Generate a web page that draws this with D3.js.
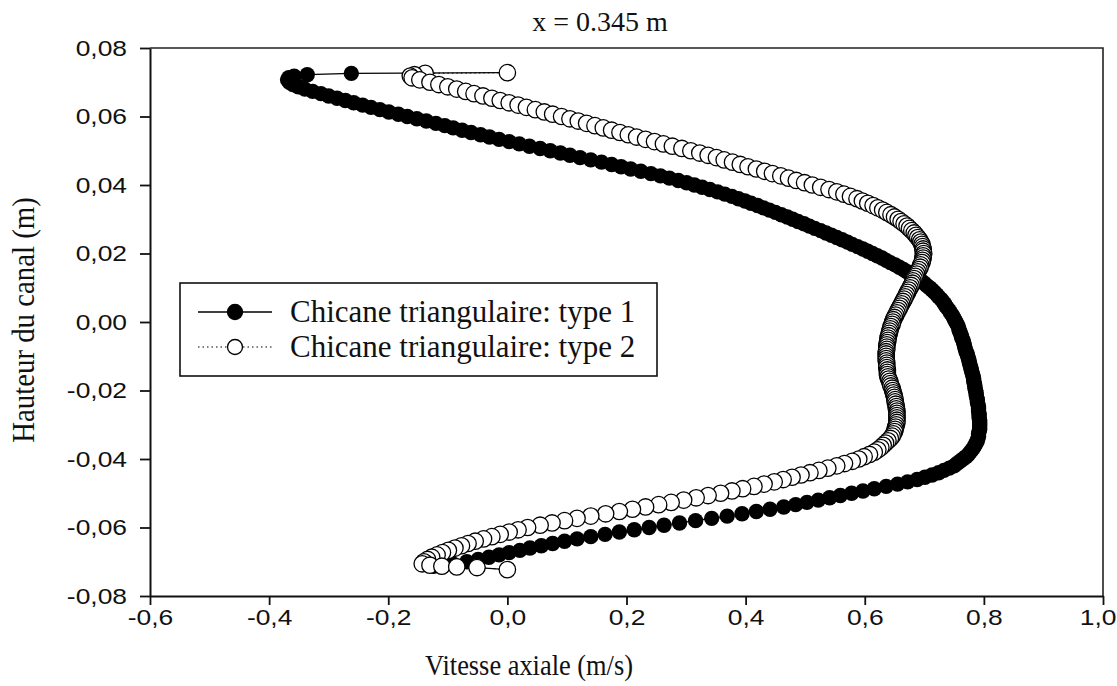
<!DOCTYPE html>
<html>
<head>
<meta charset="utf-8">
<script src="https://cdn.jsdelivr.net/npm/d3@7"></script>
<style>
  body { margin: 0; background: #fff; }
  svg { display: block; }
</style>
</head>
<body>
<svg id="chart" width="1117" height="686"></svg>
<script>
// Channel height (m) of each sampled point, from the upper wall to the lower wall
const heights = [
  0.0728, 0.0726, 0.0722, 0.0718, 0.0713, 0.0707,
  0.07000, 0.06933, 0.06867, 0.06800, 0.06733, 0.06667,
  0.06600, 0.06533, 0.06467, 0.06400, 0.06333, 0.06267,
  0.06200, 0.06133, 0.06067, 0.06000, 0.05933, 0.05867,
  0.05800, 0.05733, 0.05667, 0.05600, 0.05533, 0.05467,
  0.05400, 0.05333, 0.05267, 0.05200, 0.05133, 0.05067,
  0.05000, 0.04933, 0.04867, 0.04800, 0.04733, 0.04667,
  0.04600, 0.04533, 0.04467, 0.04400, 0.04333, 0.04267,
  0.04200, 0.04133, 0.04067, 0.04000, 0.03933, 0.03867,
  0.03800, 0.03733, 0.03667, 0.03600, 0.03533, 0.03467,
  0.03400, 0.03333, 0.03267, 0.03200, 0.03133, 0.03067,
  0.03000, 0.02933, 0.02867, 0.02800, 0.02733, 0.02667,
  0.02600, 0.02533, 0.02467, 0.02400, 0.02333, 0.02267,
  0.02200, 0.02133, 0.02067, 0.02000, 0.01933, 0.01867,
  0.01800, 0.01733, 0.01667, 0.01600, 0.01533, 0.01467,
  0.01400, 0.01333, 0.01267, 0.01200, 0.01133, 0.01067,
  0.01000, 0.00933, 0.00867, 0.00800, 0.00733, 0.00667,
  0.00600, 0.00533, 0.00467, 0.00400, 0.00333, 0.00267,
  0.00200, 0.00133, 0.00067, 0.00000, -0.00067, -0.00133,
  -0.00200, -0.00267, -0.00333, -0.00400, -0.00467, -0.00533,
  -0.00600, -0.00667, -0.00733, -0.00800, -0.00867, -0.00933,
  -0.01000, -0.01067, -0.01133, -0.01200, -0.01267, -0.01333,
  -0.01400, -0.01467, -0.01533, -0.01600, -0.01667, -0.01733,
  -0.01800, -0.01867, -0.01933, -0.02000, -0.02067, -0.02133,
  -0.02200, -0.02267, -0.02333, -0.02400, -0.02467, -0.02533,
  -0.02600, -0.02667, -0.02733, -0.02800, -0.02867, -0.02933,
  -0.03000, -0.03067, -0.03133, -0.03200, -0.03267, -0.03333,
  -0.03400, -0.03467, -0.03533, -0.03600, -0.03667, -0.03733,
  -0.03800, -0.03867, -0.03933, -0.04000, -0.04067, -0.04133,
  -0.04200, -0.04267, -0.04333, -0.04400, -0.04467, -0.04533,
  -0.04600, -0.04667, -0.04733, -0.04800, -0.04867, -0.04933,
  -0.05000, -0.05067, -0.05133, -0.05200, -0.05267, -0.05333,
  -0.05400, -0.05467, -0.05533, -0.05600, -0.05667, -0.05733,
  -0.05800, -0.05867, -0.05933, -0.06000, -0.06067, -0.06133,
  -0.06200, -0.06267, -0.06333, -0.06400, -0.06467, -0.06533,
  -0.06600, -0.06667, -0.06733, -0.06800, -0.06867, -0.06933,
  -0.07000,
  -0.0706, -0.0710, -0.0713, -0.0715, -0.0717, -0.0723
];

// Axial velocity (m/s), triangular baffle type 1
const velocityType1 = [
  0.000, -0.262, -0.336, -0.358, -0.367, -0.369,
  -0.366, -0.360, -0.351, -0.340, -0.327, -0.313,
  -0.300, -0.286, -0.272, -0.258, -0.243, -0.229,
  -0.214, -0.199, -0.183, -0.168, -0.152, -0.136,
  -0.120, -0.105, -0.091, -0.076, -0.061, -0.045,
  -0.030, -0.014, 0.003, 0.020, 0.037, 0.055,
  0.072, 0.089, 0.105, 0.122, 0.140, 0.158,
  0.175, 0.191, 0.207, 0.224, 0.241, 0.257,
  0.272, 0.287, 0.301, 0.314, 0.327, 0.340,
  0.353, 0.365, 0.377, 0.388, 0.399, 0.409,
  0.420, 0.430, 0.440, 0.450, 0.460, 0.470,
  0.479, 0.488, 0.498, 0.507, 0.516, 0.526,
  0.535, 0.544, 0.553, 0.562, 0.571, 0.579,
  0.588, 0.597, 0.605, 0.613, 0.621, 0.629,
  0.636, 0.643, 0.651, 0.658, 0.665, 0.671,
  0.678, 0.684, 0.690, 0.695, 0.700, 0.704,
  0.709, 0.713, 0.717, 0.721, 0.724, 0.728,
  0.731, 0.734, 0.736, 0.739, 0.742, 0.744,
  0.747, 0.749, 0.751, 0.753, 0.755, 0.757,
  0.758, 0.759, 0.761, 0.762, 0.763, 0.765,
  0.766, 0.767, 0.768, 0.769, 0.770, 0.772,
  0.773, 0.774, 0.775, 0.776, 0.777, 0.778,
  0.779, 0.780, 0.781, 0.782, 0.783, 0.783,
  0.784, 0.785, 0.785, 0.786, 0.787, 0.787,
  0.788, 0.789, 0.789, 0.790, 0.791, 0.791,
  0.791, 0.792, 0.792, 0.792, 0.793, 0.793,
  0.793, 0.793, 0.793, 0.792, 0.791, 0.791,
  0.790, 0.789, 0.787, 0.785, 0.783, 0.780,
  0.777, 0.774, 0.770, 0.765, 0.760, 0.755,
  0.750, 0.742, 0.733, 0.724, 0.713, 0.701,
  0.688, 0.672, 0.655, 0.636, 0.616, 0.597,
  0.578, 0.559, 0.541, 0.522, 0.503, 0.484,
  0.464, 0.441, 0.418, 0.394, 0.369, 0.343,
  0.316, 0.289, 0.263, 0.238, 0.213, 0.188,
  0.164, 0.140, 0.117, 0.096, 0.076, 0.057,
  0.038, 0.021, 0.003, -0.014, -0.031, -0.049,
  -0.068,
  -0.092, -0.112, -0.124, -0.110, -0.050, 0.000
];

// Axial velocity (m/s), triangular baffle type 2
const velocityType2 = [
  0.000, -0.138, -0.156, -0.163, -0.160, -0.147,
  -0.130, -0.115, -0.100, -0.085, -0.070, -0.056,
  -0.041, -0.026, -0.012, 0.003, 0.018, 0.032,
  0.047, 0.062, 0.076, 0.091, 0.105, 0.119,
  0.133, 0.147, 0.161, 0.175, 0.189, 0.203,
  0.217, 0.232, 0.247, 0.262, 0.277, 0.293,
  0.308, 0.323, 0.337, 0.351, 0.364, 0.378,
  0.391, 0.404, 0.418, 0.432, 0.445, 0.459,
  0.472, 0.485, 0.499, 0.512, 0.526, 0.540,
  0.553, 0.565, 0.576, 0.587, 0.596, 0.605,
  0.614, 0.622, 0.630, 0.637, 0.644, 0.650,
  0.656, 0.661, 0.666, 0.671, 0.675, 0.679,
  0.683, 0.686, 0.689, 0.692, 0.694, 0.696,
  0.697, 0.698, 0.698, 0.699, 0.698, 0.698,
  0.697, 0.696, 0.694, 0.693, 0.691, 0.689,
  0.687, 0.685, 0.683, 0.681, 0.680, 0.678,
  0.676, 0.674, 0.672, 0.670, 0.668, 0.666,
  0.664, 0.662, 0.660, 0.658, 0.656, 0.654,
  0.652, 0.650, 0.648, 0.647, 0.646, 0.644,
  0.643, 0.642, 0.641, 0.640, 0.639, 0.639,
  0.638, 0.637, 0.637, 0.637, 0.636, 0.636,
  0.636, 0.636, 0.636, 0.637, 0.637, 0.637,
  0.638, 0.638, 0.638, 0.639, 0.640, 0.642,
  0.643, 0.644, 0.646, 0.647, 0.648, 0.649,
  0.650, 0.651, 0.651, 0.652, 0.653, 0.653,
  0.654, 0.654, 0.654, 0.654, 0.654, 0.654,
  0.653, 0.652, 0.651, 0.650, 0.648, 0.646,
  0.643, 0.639, 0.635, 0.631, 0.627, 0.622,
  0.616, 0.608, 0.599, 0.590, 0.579, 0.566,
  0.553, 0.538, 0.523, 0.508, 0.493, 0.478,
  0.463, 0.448, 0.431, 0.414, 0.395, 0.377,
  0.358, 0.337, 0.317, 0.296, 0.275, 0.254,
  0.232, 0.210, 0.188, 0.165, 0.140, 0.117,
  0.096, 0.075, 0.055, 0.034, 0.018, 0.003,
  -0.012, -0.026, -0.040, -0.054, -0.066, -0.077,
  -0.088, -0.099, -0.109, -0.118, -0.127, -0.134,
  -0.140,
  -0.143, -0.130, -0.110, -0.085, -0.051, 0.000
];

const xTicks = [-0.6, -0.4, -0.2, 0.0, 0.2, 0.4, 0.6, 0.8, 1.0];
const yTicks = [-0.08, -0.06, -0.04, -0.02, 0.00, 0.02, 0.04, 0.06, 0.08];
const seriesNames = ["Chicane triangulaire: type 1", "Chicane triangulaire: type 2"];
const titleText = "x = 0.345 m";
const xTitle = "Vitesse axiale (m/s)";
const yTitle = "Hauteur du canal (m)";

const W = 1117;
const svg = d3.select("#chart");
const box = { left: 150, right: 1103, top: 48, bottom: 596 };
const serif = "'Liberation Serif', 'Times New Roman', serif";
const sans = "'Liberation Sans', Arial, sans-serif";
const stretch = 1.2;    // tick numerals are drawn slightly wide

const x = d3.scaleLinear().domain([-0.6, 1.0]).range([box.left, box.right]);
const y = d3.scaleLinear().domain([-0.08, 0.08]).range([box.bottom, box.top]);
const comma = (d, p) => d.toFixed(p).replace(".", ",");

// Frame: top and right edges
svg.append("path")
  .attr("d", `M${box.left},${box.top}H${box.right}V${box.bottom}`)
  .attr("fill", "none").attr("stroke", "#222").attr("stroke-width", 1.6);

// Axes
const gx = svg.append("g").attr("transform", `translate(0,${box.bottom})`)
  .call(d3.axisBottom(x).tickValues(xTicks).tickSize(9).tickSizeOuter(0)
    .tickPadding(4).tickFormat(d => comma(d, 1)));
const gy = svg.append("g").attr("transform", `translate(${box.left},0)`)
  .call(d3.axisLeft(y).tickValues(yTicks).tickSize(10).tickSizeOuter(0)
    .tickFormat(d => comma(d, 2)));

[gx, gy].forEach(g => {
  g.select(".domain").attr("stroke", "#111").attr("stroke-width", 2);
  g.selectAll(".tick line").attr("stroke", "#111").attr("stroke-width", 1.8);
  g.selectAll(".tick text").attr("fill", "#111")
    .style("font-family", sans).style("font-size", "22px");
});
gx.selectAll(".tick text").attr("transform", `scale(${stretch},1)`);
// keep the last numeral inside the page edge
gx.selectAll(".tick text").filter(d => d === xTicks[xTicks.length - 1])
  .attr("text-anchor", "end").attr("x", (W - 1 - x(xTicks[xTicks.length - 1])) / stretch);
gy.selectAll(".tick text").attr("x", -23 / stretch).attr("transform", `scale(${stretch},1)`);

// Profiles
const rows = heights.map((h, i) => ({ h, v1: velocityType1[i], v2: velocityType2[i] }));

const line1 = d3.line().x(d => x(d.v1)).y(d => y(d.h));
const line2 = d3.line().x(d => x(d.v2)).y(d => y(d.h));

svg.append("path").datum(rows).attr("d", line1)
  .attr("fill", "none").attr("stroke", "#000").attr("stroke-width", 1.3);
svg.append("g").selectAll("circle").data(rows).join("circle")
  .attr("cx", d => x(d.v1)).attr("cy", d => y(d.h)).attr("r", 7.7)
  .attr("fill", "#000");

svg.append("path").datum(rows).attr("d", line2)
  .attr("fill", "none").attr("stroke", "#000").attr("stroke-width", 1)
  .attr("stroke-dasharray", "1.5,3");
svg.append("g").selectAll("circle").data(rows).join("circle")
  .attr("cx", d => x(d.v2)).attr("cy", d => y(d.h)).attr("r", 8.2)
  .attr("fill", "#fff").attr("stroke", "#000").attr("stroke-width", 1.3);

// Legend
const legend = svg.append("g");
legend.append("rect").attr("x", 180).attr("y", 283).attr("width", 477).attr("height", 93)
  .attr("fill", "#fff").attr("stroke", "#111").attr("stroke-width", 1.6);
const entries = [
  { name: seriesNames[0], cy: 312, dash: null, fill: "#000" },
  { name: seriesNames[1], cy: 347, dash: "1.5,3", fill: "#fff" }
];
entries.forEach(e => {
  legend.append("line").attr("x1", 198).attr("x2", 272).attr("y1", e.cy).attr("y2", e.cy)
    .attr("stroke", "#000").attr("stroke-width", e.dash ? 1 : 1.3)
    .attr("stroke-dasharray", e.dash);
  legend.append("circle").attr("cx", 235).attr("cy", e.cy).attr("r", 7.5)
    .attr("fill", e.fill).attr("stroke", "#000").attr("stroke-width", 1.3);
  legend.append("text").attr("x", 290).attr("y", e.cy + 10)
    .style("font-family", serif).style("font-size", "31px").attr("fill", "#111")
    .text(e.name);
});

// Titles
svg.append("text").attr("x", 600).attr("y", 31).attr("text-anchor", "middle")
  .style("font-family", serif).style("font-size", "28px").attr("fill", "#111")
  .text(titleText);
svg.append("text").attr("transform", "translate(529,675) scale(0.88,1)")
  .attr("text-anchor", "middle")
  .style("font-family", serif).style("font-size", "30px").attr("fill", "#111")
  .text(xTitle);
svg.append("text").attr("transform", "translate(34,320) rotate(-90) scale(0.9,1)")
  .attr("text-anchor", "middle")
  .style("font-family", serif).style("font-size", "32px").attr("fill", "#111")
  .text(yTitle);
</script>
</body>
</html>
